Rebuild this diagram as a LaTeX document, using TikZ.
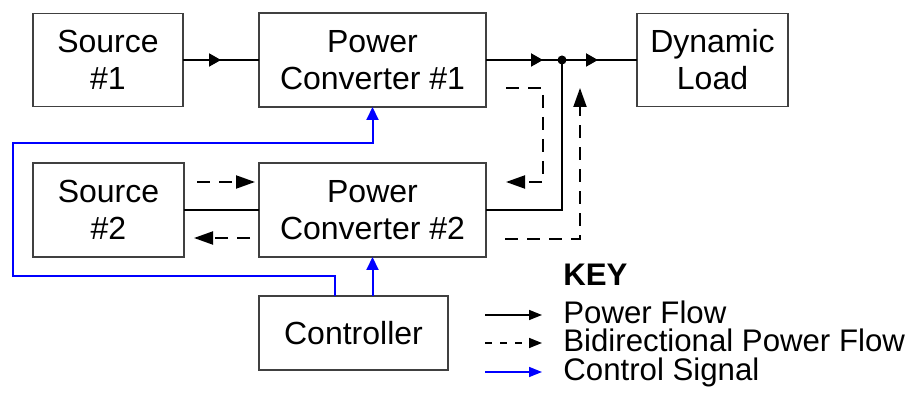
\documentclass[tikz,border=0pt]{standalone}
\usepackage{fontspec}
\setmainfont{Liberation Sans}
\usetikzlibrary{arrows.meta,decorations.markings}
\begin{document}
\begin{tikzpicture}[x=0.5pt,y=-0.5pt,
  txt/.style={font=\fontsize{16}{18.5}\selectfont},
  box/.style={txt, draw=black!75, line width=0.6pt, inner sep=0pt, outer sep=0pt, align=center},
  pw/.style={line width=1pt},
  thinpw/.style={line width=0.75pt},
  bidi/.style={line width=1pt, dash pattern=on 6.5pt off 4.5pt},
  ctl/.style={draw=blue, line width=1pt},
  midarrow/.style={postaction={decorate}, decoration={markings, mark=at position #1 with {\arrow{Triangle[length=6pt,width=6.5pt]}}}},
  bigtip/.style={-{Triangle[length=9.5pt,width=6.5pt]}},
  ctltip/.style={-{Triangle[length=6.5pt,width=6pt,color=blue]}},
  keytip/.style={-{Triangle[length=6.5pt,width=5pt]}},
  dot/.style={circle, fill, inner sep=0pt, minimum size=4.5pt},
  keytxt/.style={font=\fontsize{15.6}{16}\selectfont, anchor=base west, inner sep=0pt}
]
\useasboundingbox (0,0) rectangle (915,405);

% boxes
\node[box, minimum width=75pt, minimum height=46.5pt] (s1) at (108,60) {Source\\\#1};
\node[box, minimum width=113.5pt, minimum height=47pt] (pc1) at (372.5,60) {Power\\Converter \#1};
\node[box, minimum width=75.5pt, minimum height=46.5pt] (load) at (712.5,60) {Dynamic\\Load};
\node[box, minimum width=75.5pt, minimum height=47pt] (s2) at (108.5,210) {Source\\\#2};
\node[box, minimum width=113.5pt, minimum height=47pt] (pc2) at (372.5,210) {Power\\Converter \#2};
\node[box, minimum width=94.5pt, minimum height=37pt] (ctrl) at (353.5,333) {Controller};

% power flow
\node[dot] (junc) at (562,60) {};
\draw[pw, midarrow=0.5] (s1.east) -- (pc1.west);
\draw[pw, midarrow=0.75] (pc1.east) -- (junc.center);
\draw[pw, midarrow=0.48] (junc.center) -- (load.west);
\draw[thinpw] (pc2.east) -| (junc.center);
\draw[thinpw] (s2.east) -- (pc2.west);

% bidirectional flow
\coordinate (a1) at (197,182);
\draw[bidi, bigtip, shorten >=2pt] (a1) -- (a1 -| pc2.west);
\coordinate (a2) at (250,238);
\draw[bidi, bigtip, shorten >=5pt] (a2) -- (a2 -| s2.east);
\coordinate (b1) at (506,88);
\coordinate (b2) at (543,88);
\coordinate (b3) at (543,182);
\coordinate (b4) at (506,182);
\draw[bidi, bigtip] (b1) -- (b2) -- (b3) -- (b4);
\coordinate (e1) at (505,239);
\coordinate (e2) at (580,239);
\coordinate (e3) at (580,88);
\draw[bidi, bigtip] (e1) -- (e2) -- (e3);

% control signals
\draw[ctl, ctltip] (pc2.south |- ctrl.north) -- (pc2.south);
\coordinate (c1) at (13,276);
\coordinate (c2) at (13,143);
\draw[ctl, ctltip] ([xshift=-9.25pt]ctrl.north) |- (c1) -- (c2) -| (pc1.south);

% key
\node[keytxt, font=\bfseries\fontsize{15.6}{16}\selectfont] (key) at (563,286) {KEY};
\node[keytxt] (kpf) at (563,324) {Power Flow};
\node[keytxt] (kbf) at (563,352) {Bidirectional Power Flow};
\node[keytxt] (kcs) at (563,380) {Control Signal};
\coordinate (k1) at (485,315);
\coordinate (k2) at (485,343);
\coordinate (k3) at (485,372);
\draw[thinpw, keytip] (k1) -- (k1 -| 542,0);
\draw[thinpw, keytip, dash pattern=on 3.5pt off 4pt] (k2) -- (k2 -| 542,0);
\draw[thinpw, draw=blue, -{Triangle[length=6.5pt,width=5pt,color=blue]}] (k3) -- (k3 -| 542,0);
\end{tikzpicture}
\end{document}
